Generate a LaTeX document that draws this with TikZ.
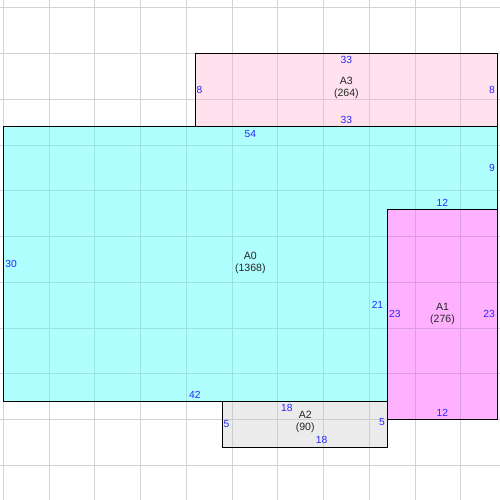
\documentclass[tikz,border=0pt]{standalone}
\usepackage{fontspec}
\setmainfont{Liberation Sans}
\begin{document}
\begin{tikzpicture}[x=0.25cm,y=0.25cm,
  dim/.style={text=blue!85!white, font=\fontsize{8}{9.5}\selectfont, inner sep=0pt},
  nm/.style={text=black!85, font=\fontsize{8.2}{9.3}\selectfont, align=center, inner sep=0pt},
  edge/.style={draw=black, line width=0.75pt},
  gridline/.style={line width=0.7pt}]
\definecolor{cA0}{RGB}{176,255,255}
\definecolor{cA1}{RGB}{255,176,255}
\definecolor{cA2}{RGB}{235,235,235}
\definecolor{cA3}{RGB}{255,226,238}
\definecolor{gOut}{RGB}{210,210,210}
\definecolor{gA0}{RGB}{155,226,226}
\definecolor{gA1}{RGB}{222,155,230}
\definecolor{gA2}{RGB}{205,205,205}
\definecolor{gA3}{RGB}{226,198,212}
\newcommand{\gridall}[1]{%
  \foreach \gx in {0,5,...,50} \draw[gridline,#1] (\gx,-10.79) -- (\gx,43.86);
  \foreach \gy in {-7,-2,...,43} \draw[gridline,#1] (-0.36,\gy) -- (54.28,\gy);}
\useasboundingbox (-0.36,-10.79) rectangle (54.28,43.86);
\fill[white] (-0.36,-10.79) rectangle (54.28,43.86);
\gridall{gOut}
% fills with tinted grid
\begin{scope}
\clip (21,30) rectangle (54,38);
\fill[cA3] (21,30) rectangle (54,38);
\gridall{gA3}
\end{scope}
\begin{scope}
\clip (0,0) -- (0,30) -- (54,30) -- (54,21) -- (42,21) -- (42,0) -- cycle;
\fill[cA0] (0,0) rectangle (54,30);
\gridall{gA0}
\end{scope}
\begin{scope}
\clip (42,-2) rectangle (54,21);
\fill[cA1] (42,-2) rectangle (54,21);
\gridall{gA1}
\end{scope}
\begin{scope}
\clip (24,-5) rectangle (42,0);
\fill[cA2] (24,-5) rectangle (42,0);
\gridall{gA2}
\end{scope}
% outlines
\draw[edge] (21,30) rectangle (54,38);
\draw[edge] (0,0) -- (0,30) -- (54,30) -- (54,21) -- (42,21) -- (42,0) -- cycle;
\draw[edge] (42,-2) rectangle (54,21);
\draw[edge] (24,-5) rectangle (42,0);
% A3 labels
\node[nm] (nA3) at (37.5,34.2) {A3\\(264)};
\node[dim] (a3t) at (37.5,37.3) {33};
\node[dim] (a3b) at (37.5,30.75) {33};
\node[dim] (a3l) at (21.45,34.0) {8};
\node[dim] (a3r) at (53.4,34.0) {8};
% A0 labels
\node[nm] (nA0) at (27,15.1) {A0\\(1368)};
\node[dim] (a0t) at (27,29.25) {54};
\node[dim] (a0r) at (53.4,25.5) {9};
\node[dim] (a0s) at (48,21.7) {12};
\node[dim] (a0i) at (40.9,10.5) {21};
\node[dim] (a0b) at (20.95,0.7) {42};
\node[dim] (a0l) at (0.85,15) {30};
% A1 labels
\node[nm] (nA1) at (48,9.5) {A1\\(276)};
\node[dim] (a1l) at (42.8,9.55) {23};
\node[dim] (a1r) at (53.1,9.55) {23};
\node[dim] (a1b) at (48,-1.27) {12};
% A2 labels
\node[nm] (nA2) at (33,-2.3) {A2\\(90)};
\node[dim] (a2t) at (31.0,-0.73) {18};
\node[dim] (a2b) at (34.8,-4.2) {18};
\node[dim] (a2l) at (24.4,-2.5) {5};
\node[dim] (a2r) at (41.4,-2.25) {5};
\end{tikzpicture}
\end{document}
